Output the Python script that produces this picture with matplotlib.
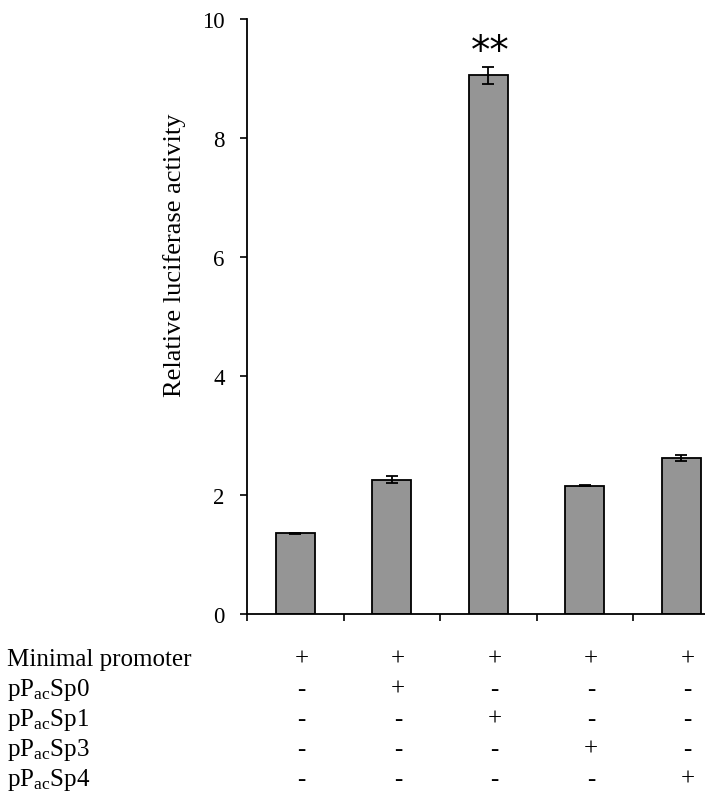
import matplotlib
matplotlib.use("Agg")
import matplotlib.pyplot as plt
import matplotlib.transforms as mtransforms
import numpy as np

# ---- data ----
categories = ["Minimal", "Sp0", "Sp1", "Sp3", "Sp4"]
values = [1.35, 2.25, 9.05, 2.15, 2.62]
errors = [0.01, 0.06, 0.15, 0.01, 0.05]
y_ticks = [0, 2, 4, 6, 8, 10]
significance = ["", "", "**", "", ""]
row_labels = ["Minimal promoter",
              r"pP$_{\mathrm{ac}}$Sp0",
              r"pP$_{\mathrm{ac}}$Sp1",
              r"pP$_{\mathrm{ac}}$Sp3",
              r"pP$_{\mathrm{ac}}$Sp4"]
row_signs = [
    ["+", "+", "+", "+", "+"],
    ["-", "+", "-", "-", "-"],
    ["-", "-", "+", "-", "-"],
    ["-", "-", "-", "+", "-"],
    ["-", "-", "-", "-", "+"],
]

plt.rcParams["font.family"] = ["Liberation Serif", "DejaVu Serif"]
plt.rcParams["mathtext.fontset"] = "custom"
plt.rcParams["mathtext.rm"] = "Liberation Serif"
plt.rcParams["mathtext.it"] = "Liberation Serif:italic"

W, H = 705, 804
fig = plt.figure(figsize=(W / 100, H / 100), dpi=100)

# axes: left at 247 px, bottom at 614.7 px, top at 20 px; right beyond figure (cropped)
left = 247 / W
right = 729.5 / W
bottom = (H - 614.7) / H
top = (H - 20) / H
ax = fig.add_axes([left, bottom, right - left, top - bottom])

x = np.arange(len(categories))
ax.bar(x, values, width=0.40, color="#959595", edgecolor="black", linewidth=1.3, zorder=2)
ax.errorbar(x, values, yerr=errors, fmt="none", ecolor="black", elinewidth=1.3,
            capsize=4, capthick=1.3, zorder=3)

for xi, v, e, s in zip(x, values, errors, significance):
    if s:
        ax.text(xi + 0.02, 9.28, s, ha="center", va="baseline", fontsize=28,
                fontweight="normal", family=["DejaVu Sans"])

ax.set_xlim(-0.5, len(categories) - 0.5)
ax.set_ylim(0, 10)
ax.set_yticks(y_ticks)
ax.set_yticklabels([str(t) for t in y_ticks], fontsize=16.5)
ax.set_xticks(np.arange(len(categories) + 1) - 0.5)
ax.set_xticklabels([])
ax.tick_params(axis="y", direction="out", length=5, width=1.2, pad=11)
ax.tick_params(axis="x", direction="out", length=5, width=1.2)
for sp in ["top", "right"]:
    ax.spines[sp].set_visible(False)
for sp in ["left", "bottom"]:
    ax.spines[sp].set_linewidth(1.3)

ax.set_ylabel("Relative luciferase activity", fontsize=19)
ax.yaxis.set_label_coords(186 / W, (H - 255) / H, transform=fig.transFigure)

# ---- table of constructs below the axis ----
baselines_px = [666, 696, 726, 756, 786]
trans = mtransforms.blended_transform_factory(ax.transData, fig.transFigure)
for r, (lab, signs) in enumerate(zip(row_labels, row_signs)):
    yb = (H - baselines_px[r]) / H
    fig.text(7 / W, yb, lab, ha="left", va="baseline", fontsize=18)
    for c, s in enumerate(signs):
        ax.text(c + 0.065, yb, s, transform=trans, ha="center", va="baseline",
                fontsize=18, clip_on=False)

fig.savefig("out.png", dpi=100)
